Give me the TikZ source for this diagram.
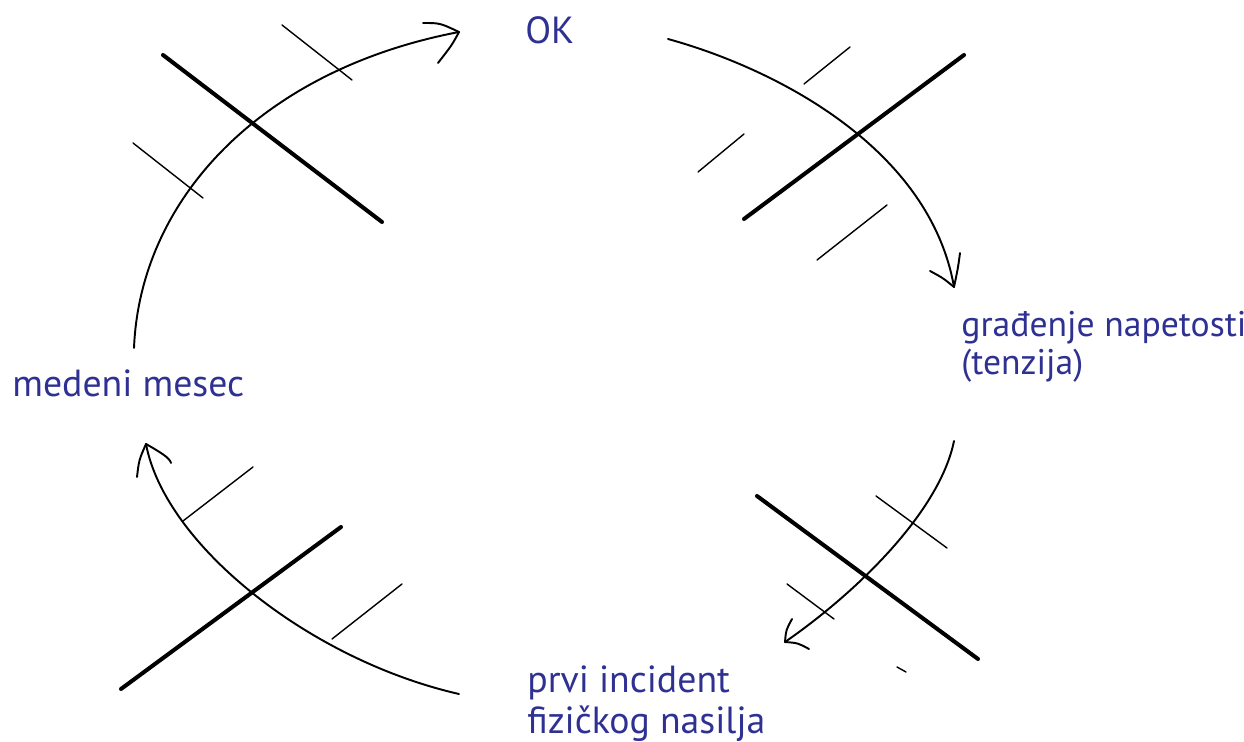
\documentclass[tikz,border=0pt]{standalone}
\usepackage{fontspec}
\setmainfont{PT Sans}
\definecolor{labelblue}{RGB}{46,49,146}
\begin{document}
\begin{tikzpicture}[x=0.02cm, y=-0.02cm, line join=round, line cap=round,
	lbl/.style={anchor=base west, inner sep=0pt, text=labelblue, font=\fontsize{21.5}{23}\selectfont, align=left},
	bar/.style={line width=2.3pt},
	tick/.style={line width=0.8pt},
	arc/.style={line width=1.1pt}]
	\useasboundingbox (0,0) rectangle (1244,742);
	% labels (base = last line)
	\node[lbl] (ok) at (525,44) {OK};
	\node[lbl, font=\fontsize{20.3}{22}\selectfont] (napetost) at (961,375) {građenje napetosti\\(tenzija)};
	\node[lbl] (incident) at (527,733) {prvi incident\\fizičkog nasilja};
	\node[lbl] (medeni) at (12,397) {medeni mesec};
	% arc ends
	\coordinate (medeni-out) at (134,348);
	\coordinate (ok-in) at (459,32);
	\coordinate (ok-out) at (668,39);
	\coordinate (napetost-in) at (954,287);
	\coordinate (napetost-out) at (954,441);
	\coordinate (incident-in) at (785,642);
	\coordinate (incident-out) at (459,694);
	\coordinate (medeni-in) at (146,444);
	% arcs
	\draw[arc] (medeni-out) .. controls (140,200) and (260,70) .. (ok-in);
	\draw[arc] (ok-out) .. controls (780,70) and (930,150) .. (napetost-in);
	\draw[arc] (napetost-out) .. controls (940,510) and (860,590) .. (incident-in);
	\draw[arc] (incident-out) .. controls (310,660) and (165,545) .. (medeni-in);
	% hand drawn barbs
	\draw[arc] (423,23) .. controls (440,23) .. (ok-in);
	\draw[arc] (438,63) .. controls (452,45) .. (ok-in);
	\draw[arc] (930,271) .. controls (943,278) .. (napetost-in);
	\draw[arc] (960,253) .. controls (958,268) .. (napetost-in);
	\draw[arc] (792,619) .. controls (786,630) .. (incident-in);
	\draw[arc] (809,649) .. controls (798,643) .. (incident-in);
	\draw[arc] (137,477) .. controls (139,460) .. (medeni-in);
	\draw[arc] (171,463) .. controls (170,458) and (160,452) .. (medeni-in);
	% crossing bars
	\foreach \xa/\ya/\xb/\yb in {163/55/382/222, 744/219/964/55, 757/496/978/659, 121/689/341/527}
		\draw[bar] (\xa,\ya) -- (\xb,\yb);
	% ticks
	\foreach \xa/\ya/\xb/\yb in {282/25/352/80, 133/143/203/198, 804/84/850/47, 698/172/744/134, 817/260/887/205, 876/496/947/548, 787/584/834/619, 897/667/906/672, 183/521/253/467, 332/639/402/584}
		\draw[tick] (\xa,\ya) -- (\xb,\yb);
\end{tikzpicture}
\end{document}
